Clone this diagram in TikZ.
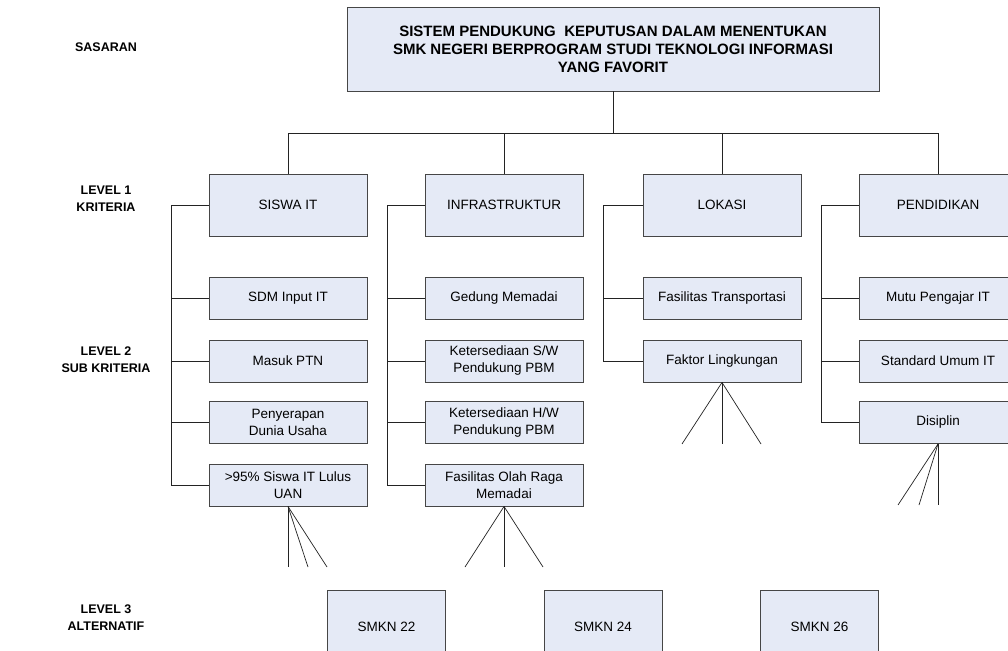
\documentclass[tikz,border=0pt]{standalone}
\usepackage{fontspec}
\setmainfont{Liberation Sans}
\definecolor{boxfill}{RGB}{229,234,246}
\definecolor{boxline}{RGB}{70,70,70}
\definecolor{lineclr}{RGB}{35,35,35}
\newcommand\boxfont{\fontsize{13.5}{17}\selectfont}
\newcommand\titlefont{\fontsize{15}{18}\selectfont\bfseries}
\newcommand\lblfont{\fontsize{12.5}{17}\selectfont\bfseries}
\begin{document}
\begin{tikzpicture}[x=1pt,y=-1pt,
  box/.style={draw=boxline, fill=boxfill, line width=0.9pt, inner sep=0pt, align=center, font=\boxfont, minimum width=158pt, minimum height=42pt},
  crit/.style={box, minimum height=62pt},
  alt/.style={box, minimum width=118pt, minimum height=74pt},
  goalbox/.style={box, font=\titlefont, minimum width=532pt, minimum height=84pt},
  lbl/.style={align=center, font=\lblfont, inner sep=0pt},
  conn/.style={draw=lineclr, line width=0.9pt},
  fan/.style={conn, line width=0.7pt}]
\useasboundingbox (0,0) rectangle (1008,650);
\clip (0,0) rectangle (1008,650);
\fill[white] (0,0) rectangle (1008,650);

% side labels
\node[lbl] (lsas) at (106,47) {SASARAN};
\node[lbl] (lk1) at (106,199) {LEVEL 1\\KRITERIA};
\node[lbl] (lk2) at (106,359.5) {LEVEL 2\\SUB KRITERIA};
\node[lbl] (lk3) at (106,618) {LEVEL 3\\ALTERNATIF};

% goal
\node[goalbox] (goal) at (613,49) {SISTEM PENDUKUNG\ \ KEPUTUSAN DALAM MENENTUKAN\\SMK NEGERI BERPROGRAM STUDI TEKNOLOGI INFORMASI\\YANG FAVORIT};

% criteria
\node[crit] (c1) at (288,205) {SISWA IT};
\node[crit] (c2) at (504,205) {INFRASTRUKTUR};
\node[crit] (c3) at (722,205) {LOKASI};
\node[crit] (c4) at (938,205) {PENDIDIKAN};

% sub criteria
\node[box] (c1s1) at (288,298.5) {SDM Input IT};
\node[box] (c1s2) at (288,361) {Masuk PTN};
\node[box] (c1s3) at (288,422.5) {Penyerapan\\Dunia Usaha};
\node[box] (c1s4) at (288,485) {>95\% Siswa IT Lulus\\UAN};

\node[box] (c2s1) at (504,298.5) {Gedung Memadai};
\node[box] (c2s2) at (504,361) {Ketersediaan S/W\\Pendukung PBM};
\node[box] (c2s3) at (504,422.5) {Ketersediaan H/W\\Pendukung PBM};
\node[box] (c2s4) at (504,485) {Fasilitas Olah Raga\\Memadai};

\node[box] (c3s1) at (722,298.5) {Fasilitas Transportasi};
\node[box] (c3s2) at (722,361) {Faktor Lingkungan};

\node[box] (c4s1) at (938,298.5) {Mutu Pengajar IT};
\node[box] (c4s2) at (938,361) {Standard Umum IT};
\node[box] (c4s3) at (938,422.5) {Disiplin};

% alternatives
\node[alt] (a1) at (386.5,627) {SMKN 22};
\node[alt] (a2) at (603,627) {SMKN 24};
\node[alt] (a3) at (819.5,627) {SMKN 26};

% top bus
\coordinate (hb) at (0,133);
\draw[conn] (goal.south) -- (goal.south |- hb);
\draw[conn] (c1.north) -- (c1.north |- hb) -- (c4.north |- hb) -- (c4.north);
\draw[conn] (c2.north) -- (c2.north |- hb);
\draw[conn] (c3.north) -- (c3.north |- hb);

% left buses
\coordinate (b1) at (171,0);
\coordinate (b2) at (387,0);
\coordinate (b3) at (603,0);
\coordinate (b4) at (821,0);
\draw[conn] (c1.west) -- (c1.west -| b1) -- (c1s4.west -| b1) -- (c1s4.west);
\draw[conn] (c1s1.west -| b1) -- (c1s1.west);
\draw[conn] (c1s2.west -| b1) -- (c1s2.west);
\draw[conn] (c1s3.west -| b1) -- (c1s3.west);
\draw[conn] (c2.west) -- (c2.west -| b2) -- (c2s4.west -| b2) -- (c2s4.west);
\draw[conn] (c2s1.west -| b2) -- (c2s1.west);
\draw[conn] (c2s2.west -| b2) -- (c2s2.west);
\draw[conn] (c2s3.west -| b2) -- (c2s3.west);
\draw[conn] (c3.west) -- (c3.west -| b3) -- (c3s2.west -| b3) -- (c3s2.west);
\draw[conn] (c3s1.west -| b3) -- (c3s1.west);
\draw[conn] (c4.west) -- (c4.west -| b4) -- (c4s3.west -| b4) -- (c4s3.west);
\draw[conn] (c4s1.west -| b4) -- (c4s1.west);
\draw[conn] (c4s2.west -| b4) -- (c4s2.west);

% fans
\coordinate (f1a) at (288,567);
\coordinate (f1b) at (308,567);
\coordinate (f1c) at (327,567);
\draw[fan] (c1s4.south) -- (f1a);
\draw[fan] (c1s4.south) -- (f1b);
\draw[fan] (c1s4.south) -- (f1c);
\coordinate (f2a) at (465,567);
\coordinate (f2b) at (504,567);
\coordinate (f2c) at (543,567);
\draw[fan] (c2s4.south) -- (f2a);
\draw[fan] (c2s4.south) -- (f2b);
\draw[fan] (c2s4.south) -- (f2c);
\coordinate (f3a) at (682,444);
\coordinate (f3b) at (722,444);
\coordinate (f3c) at (761,444);
\draw[fan] (c3s2.south) -- (f3a);
\draw[fan] (c3s2.south) -- (f3b);
\draw[fan] (c3s2.south) -- (f3c);
\coordinate (f4a) at (898,505);
\coordinate (f4b) at (919,505);
\coordinate (f4c) at (938,505);
\draw[fan] (c4s3.south) -- (f4a);
\draw[fan] (c4s3.south) -- (f4b);
\draw[fan] (c4s3.south) -- (f4c);
\end{tikzpicture}
\end{document}
